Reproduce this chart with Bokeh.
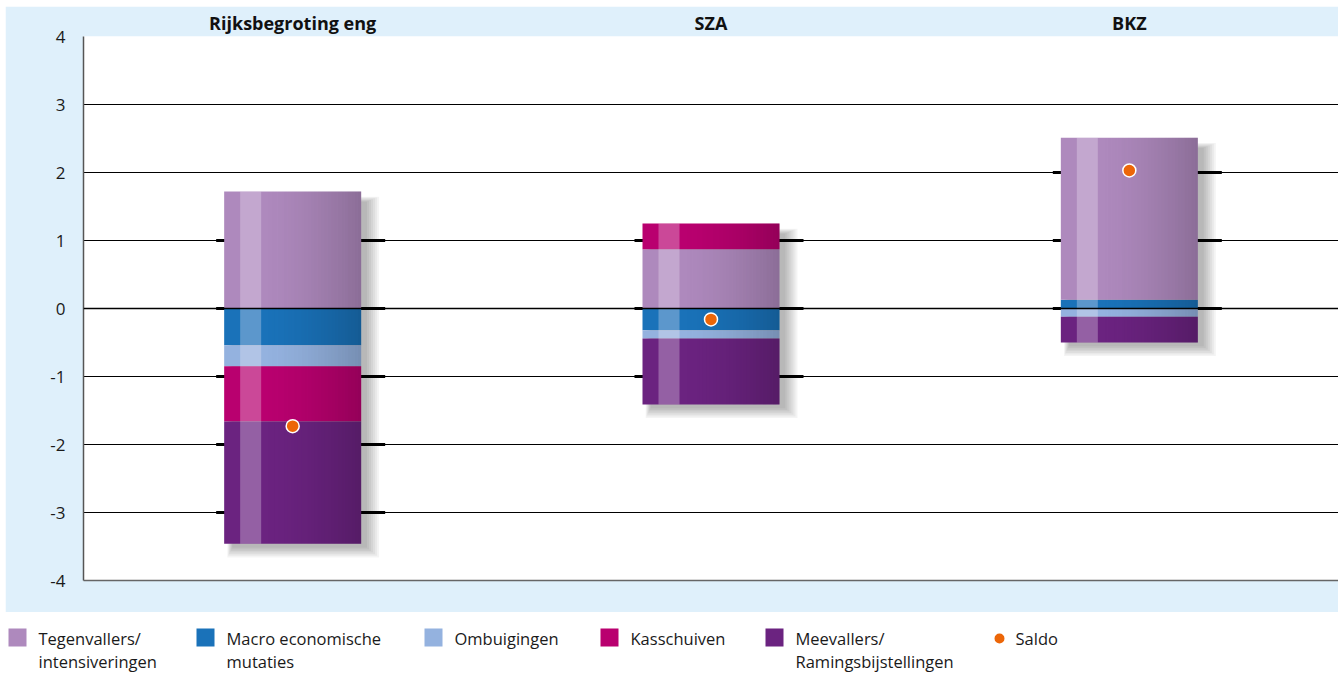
import numpy as np
from bokeh.plotting import figure
from bokeh.models import Range1d, FixedTicker, LinearAxis, ColumnDataSource, Grid, Span
from bokeh.embed import file_html
from bokeh.resources import INLINE
from bokeh.core.properties import value

# ---------------- data ----------------
categories = ["Rijksbegroting eng", "SZA", "BKZ"]
series_names = ["Tegenvallers/\nintensiveringen", "Macro economische\nmutaties", "Ombuigingen",
                "Kasschuiven", "Meevallers/\nRamingsbijstellingen"]
tegenvallers = [1.72, 0.87, 2.38]
macro = [-0.54, -0.32, 0.13]
ombuigingen = [-0.31, -0.12, -0.12]
kasschuiven = [-0.81, 0.38, 0.0]
meevallers = [-1.80, -0.97, -0.38]
saldo = [-1.73, -0.16, 2.03]
saldo_label = "Saldo"
y_ticks = [-4, -3, -2, -1, 0, 1, 2, 3, 4]
y_tick_labels = ["-4", "-3", "-2", "-1", "0", "1", "2", "3", "4"]

# ---------------- style ----------------
colors = ["#ae89bd", "#1a72b9", "#94b2df", "#b9006f", "#6b2380"]
saldo_color = "#ec6608"
panel_blue = "#dff0fb"
FONT = "Open Sans"

values = [tegenvallers, macro, ombuigingen, kasschuiven, meevallers]
pos_order = [1, 0, 2, 3, 4]
neg_order = [0, 1, 2, 3, 4]

FRAME_W, FRAME_H = 1255, 544
XPX = 3.0 / FRAME_W
YPX = 8.0 / FRAME_H
BAR_W = 137 * XPX

p = figure(width=1333, height=606, x_range=Range1d(0, 3), y_range=Range1d(-4, 4),
           output_backend="svg", toolbar_location=None,
           min_border_left=78, min_border_right=0, min_border_top=30, min_border_bottom=32,
           border_fill_color=panel_blue, background_fill_color="white",
           outline_line_color=None, x_axis_location=None, y_axis_location=None,
           styles={"margin-left": "5px", "margin-top": "6px"})
p.center = [r for r in p.center if not isinstance(r, Grid)]

p.add_layout(Grid(dimension=1, ticker=FixedTicker(ticks=y_ticks), grid_line_color="black",
                  grid_line_width=1))
p.add_layout(Span(location=0, dimension="width", line_color="black", line_width=1.6))

yaxis = LinearAxis(ticker=FixedTicker(ticks=y_ticks),
                   major_label_overrides={t: s for t, s in zip(y_ticks, y_tick_labels)})
yaxis.axis_line_color = "#555555"
yaxis.axis_line_width = 1.5
yaxis.major_tick_line_color = None
yaxis.minor_tick_line_color = None
yaxis.major_label_text_font = FONT
yaxis.major_label_text_font_size = "17px"
yaxis.major_label_text_color = "#1a1a1a"
yaxis.major_label_standoff = 12
p.add_layout(yaxis, "left")

centers = [i + 0.5 for i in range(len(categories))]
top_axis = LinearAxis(ticker=FixedTicker(ticks=centers),
                      major_label_overrides={c: n for c, n in zip(centers, categories)})
top_axis.axis_line_color = None
top_axis.major_tick_line_color = None
top_axis.minor_tick_line_color = None
top_axis.major_tick_out = 0
top_axis.major_label_text_font = FONT
top_axis.major_label_text_font_style = "bold"
top_axis.major_label_text_font_size = "18px"
top_axis.major_label_text_color = "#111111"
top_axis.major_label_standoff = 2
p.add_layout(top_axis, "above")

bot_axis = LinearAxis(ticker=FixedTicker(ticks=[]))
bot_axis.axis_line_color = "#666666"
bot_axis.axis_line_width = 1.5
bot_axis.major_tick_line_color = None
bot_axis.minor_tick_line_color = None
bot_axis.major_label_text_font_size = "0px"
p.add_layout(bot_axis, "below")

# compute stacks
seg = dict(left=[], right=[], bottom=[], top=[], color=[])
extents = []
for i, c in enumerate(centers):
    L, R = c - BAR_W / 2, c + BAR_W / 2
    pos, neg = 0.0, 0.0
    for s in pos_order:
        v = values[s][i]
        if v > 0:
            seg["left"].append(L); seg["right"].append(R)
            seg["bottom"].append(pos); seg["top"].append(pos + v)
            seg["color"].append(colors[s]); pos += v
    for s in neg_order:
        v = values[s][i]
        if v < 0:
            seg["left"].append(L); seg["right"].append(R)
            seg["bottom"].append(neg + v); seg["top"].append(neg)
            seg["color"].append(colors[s]); neg += v
    extents.append((L, R, neg, pos))

# thick gridline pieces behind bars
tx0, tx1, ty = [], [], []
for (L, R, B, T) in extents:
    for k in y_ticks:
        if B < k < T:
            tx0.append(L - 8 * XPX); tx1.append(R + 24 * XPX); ty.append(k)
p.segment(x0=tx0, x1=tx1, y0=ty, y1=ty, line_color="black", line_width=3)

# shadow
sh = dict(left=[], right=[], bottom=[], top=[])
for (L, R, B, T) in extents:
    for e in range(0, 14, 2):
        sh["left"].append(L + (8 - e * 0.4) * XPX)
        sh["right"].append(R + (6 + e) * XPX)
        sh["bottom"].append(B - (4 + e * 0.8) * YPX)
        sh["top"].append(T - (10 - e * 0.4) * YPX)
p.quad(source=ColumnDataSource(sh), left="left", right="right", bottom="bottom", top="top",
       fill_color="black", fill_alpha=0.045, line_color=None)

p.quad(source=ColumnDataSource(seg), left="left", right="right", bottom="bottom", top="top",
       fill_color="color", line_color=None)

# highlight stripe and horizontal gradient
st = dict(left=[], right=[], bottom=[], top=[])
grad = dict(left=[], right=[], bottom=[], top=[], alpha=[])
N = 30
for (L, R, B, T) in extents:
    st["left"].append(L + 16 * XPX); st["right"].append(L + 37 * XPX)
    st["bottom"].append(B); st["top"].append(T)
    x0 = L + 37 * XPX
    edges = np.linspace(x0, R, N + 1)
    for j in range(N):
        t = (j + 0.5) / N
        grad["left"].append(edges[j]); grad["right"].append(edges[j + 1])
        grad["bottom"].append(B); grad["top"].append(T)
        grad["alpha"].append(0.2 * t ** 1.6)
p.quad(source=ColumnDataSource(st), left="left", right="right", bottom="bottom", top="top",
       fill_color="#f4eefa", fill_alpha=0.3, line_color=None)
p.quad(source=ColumnDataSource(grad), left="left", right="right", bottom="bottom", top="top",
       fill_color="black", fill_alpha="alpha", line_color=None)

p.scatter(x=centers, y=saldo, size=13, fill_color=saldo_color, line_color="white", line_width=1.5)

# ---------------- legend (separate root, page coordinates) ----------------
LG_H = 63
lg = figure(width=1343, height=LG_H, x_range=Range1d(0, 1343), y_range=Range1d(LG_H, 0),
            output_backend="svg", toolbar_location=None, min_border=0,
            x_axis_location=None, y_axis_location=None, outline_line_color=None,
            background_fill_color="white", border_fill_color="white")
lg.center = [r for r in lg.center if not isinstance(r, Grid)]
item_x = [8, 196, 424, 600, 765]
lg.quad(left=item_x, right=[x + 18 for x in item_x], top=[16] * 5, bottom=[34] * 5,
        fill_color=colors, line_color=None)
tx, tyy, tt = [], [], []
for x, name in zip(item_x, series_names):
    for li, line in enumerate(name.split("\n")):
        tx.append(x + 30); tyy.append(26 + 23 * li); tt.append(line)
tx.append(1015); tyy.append(26); tt.append(saldo_label)
lg.text(x=tx, y=tyy, text=tt, text_font=value(FONT), text_font_size="16.5px",
        text_baseline="middle", text_color="#1a1a1a")
lg.scatter(x=[999], y=[26], size=10, fill_color=saldo_color, line_color=None)

open("out.html", "w").write(file_html([p, lg], INLINE))
